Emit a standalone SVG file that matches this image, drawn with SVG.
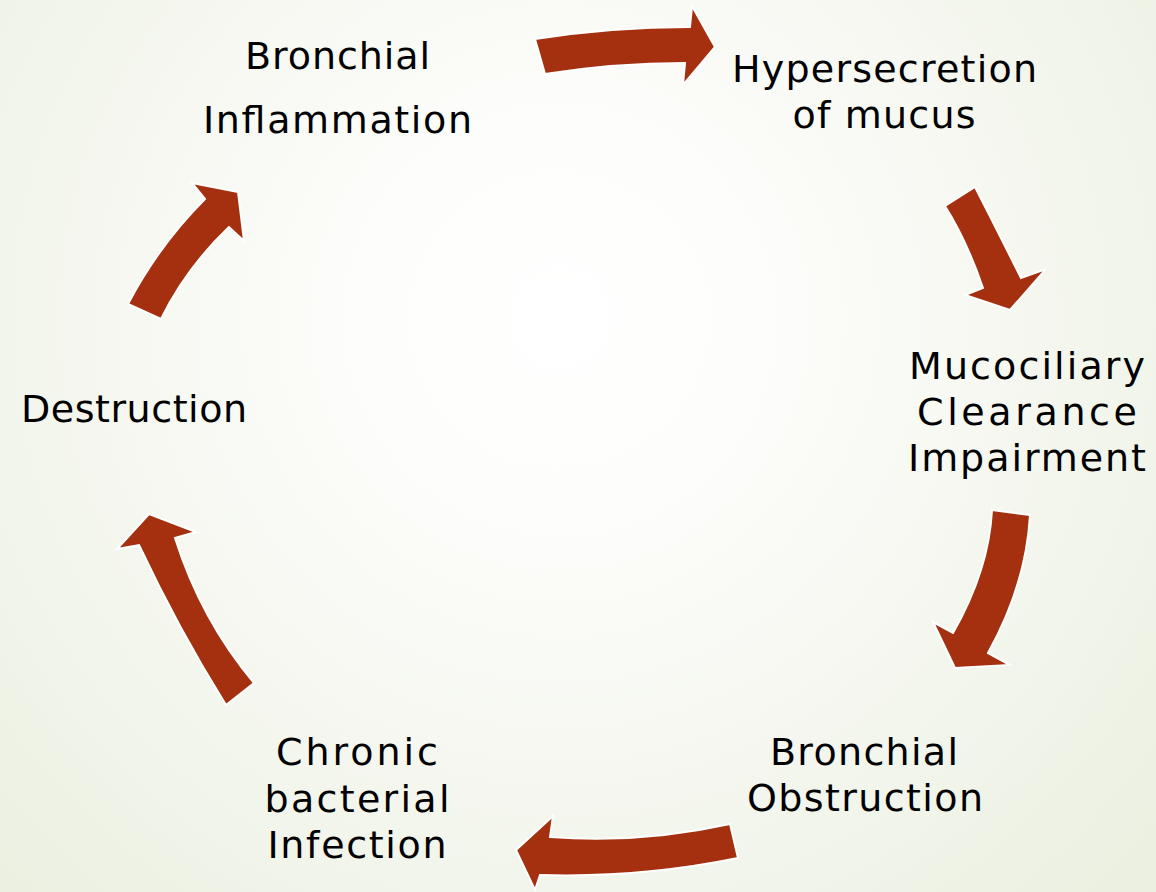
<svg xmlns="http://www.w3.org/2000/svg" width="1156" height="892" viewBox="0 0 1156 892">
<defs>
<radialGradient id="bg" cx="560" cy="320" r="800" gradientUnits="userSpaceOnUse">
<stop offset="0" stop-color="#FFFFFF"/>
<stop offset="0.25" stop-color="#FDFDFB"/>
<stop offset="1" stop-color="#EBF0E1"/>
</radialGradient>
<style>
.lbl{font-family:"DejaVu Sans","Liberation Sans",sans-serif;font-size:38px;fill:#000;text-anchor:middle}
.arr{fill:#A5300F;stroke:#FFFFFF;stroke-width:2;stroke-linejoin:miter}
</style>
</defs>
<rect width="1156" height="892" fill="url(#bg)"/>
<g id="connectors">
<path class="arr" d="M535,39 Q612,27 690,27 L692,6 L715,47 L683,85 L685,63 Q614,63 545,74 Z"/>
<path class="arr" d="M945,206 L975,187 Q996,228 1021,278 L1046,269 L1010,310 L965,295 L983,288 Q967,241 945,206 Z"/>
<path class="arr" d="M992,510 L1030,515 Q1026,585 988,653 L1010,665 L955,668 L933,622 L953,633 Q989,570 992,510 Z"/>
<path class="arr" d="M730,824 L738,858 Q640,878 540,875 L535,890 L516,850 L553,816 L550,837 Q640,844 730,824 Z"/>
<path class="arr" d="M254,683 L226,705 Q179,630 139,545 L117,549 L149,514 L196,532 L175,538 Q201,620 254,683 Z"/>
<path class="arr" d="M128,304 L161,319 Q186,268 229,227 L244,241 L238,192 L192,183 L205,199 Q159,245 128,304 Z"/>
</g>
<g id="node-bronchial-inflammation">
<text class="lbl" x="337.5" y="69" textLength="185" lengthAdjust="spacing">Bronchial</text>
<text class="lbl" x="337.5" y="133" textLength="269" lengthAdjust="spacing">Inflammation</text>
</g>
<g id="node-hypersecretion">
<text class="lbl" x="884.5" y="82" textLength="305" lengthAdjust="spacing">Hypersecretion</text>
<text class="lbl" x="884" y="128" textLength="183" lengthAdjust="spacing">of mucus</text>
</g>
<g id="node-mucociliary">
<text class="lbl" x="1027" y="379" textLength="236" lengthAdjust="spacing">Mucociliary</text>
<text class="lbl" x="1027" y="425" textLength="220" lengthAdjust="spacing">Clearance</text>
<text class="lbl" x="1027" y="471" textLength="238" lengthAdjust="spacing">Impairment</text>
</g>
<g id="node-bronchial-obstruction">
<text class="lbl" x="864" y="765" textLength="188" lengthAdjust="spacing">Bronchial</text>
<text class="lbl" x="865" y="811" textLength="236" lengthAdjust="spacing">Obstruction</text>
</g>
<g id="node-chronic-infection">
<text class="lbl" x="357" y="765" textLength="162" lengthAdjust="spacing">Chronic</text>
<text class="lbl" x="357" y="812" textLength="185" lengthAdjust="spacing">bacterial</text>
<text class="lbl" x="357" y="858" textLength="179" lengthAdjust="spacing">Infection</text>
</g>
<g id="node-destruction">
<text class="lbl" x="134" y="422" textLength="226" lengthAdjust="spacing">Destruction</text>
</g>
</svg>
